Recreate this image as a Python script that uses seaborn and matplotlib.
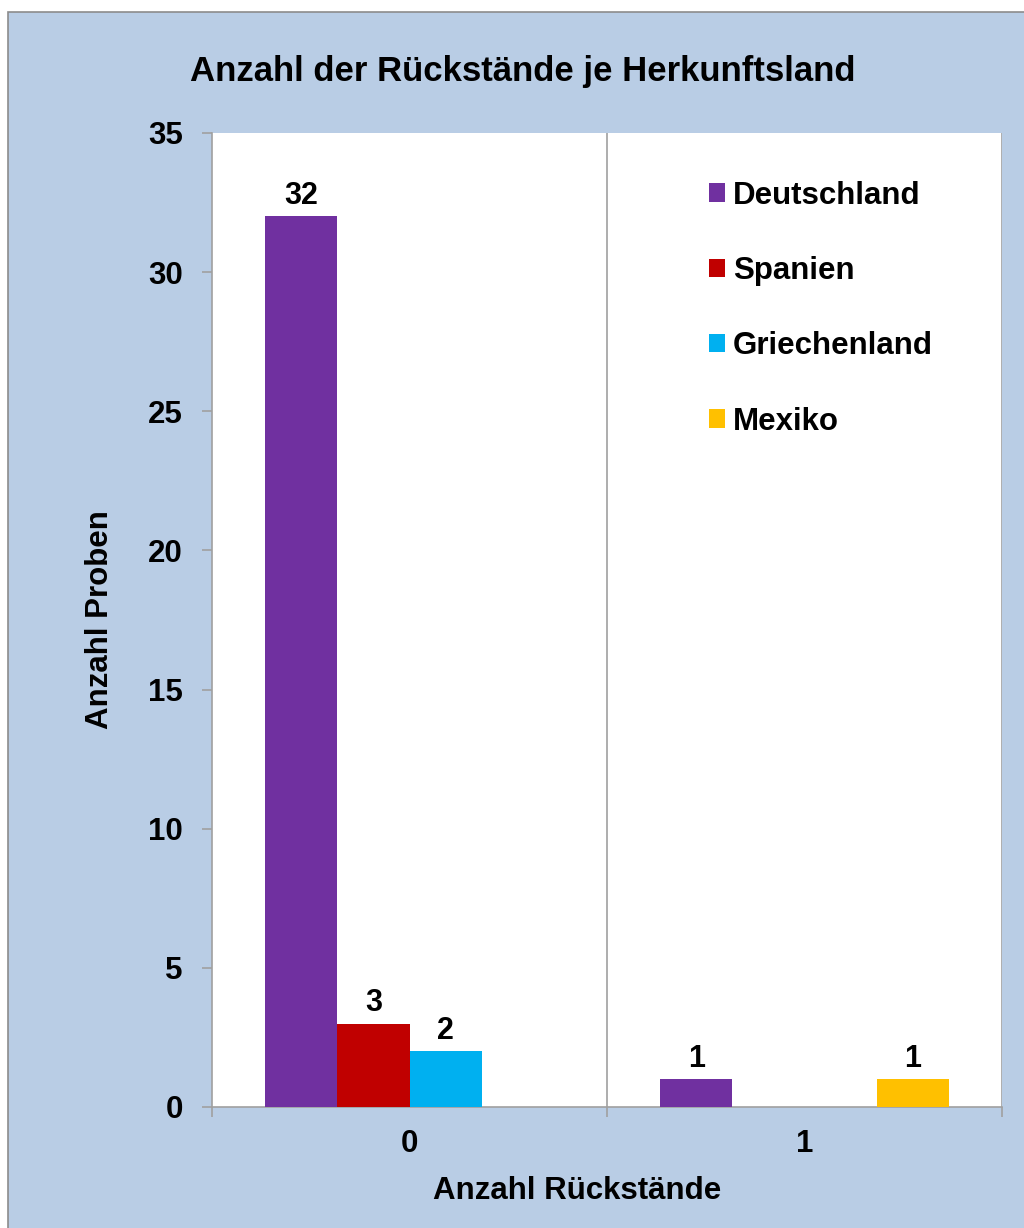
import matplotlib.pyplot as plt
import matplotlib.patches as mpatches
import numpy as np
import seaborn as sns
import pandas as pd

# Daten
kategorien = ['0', '1']
laender = ['Deutschland', 'Spanien', 'Griechenland', 'Mexiko']
werte_0 = [32, 3, 2, 0]
werte_1 = [1, 0, 0, 1]
farben = ['#7030A0', '#C00000', '#00B0F0', '#FFC000']
y_ticks = [0, 5, 10, 15, 20, 25, 30, 35]

df = pd.DataFrame({
    'rueckstaende': [kategorien[0]] * 4 + [kategorien[1]] * 4,
    'land': laender * 2,
    'anzahl': werte_0 + werte_1,
})

sns.set_style('white')
plt.rcParams['font.family'] = ['Liberation Sans', 'DejaVu Sans']
plt.rcParams['text.color'] = 'black'
plt.rcParams['axes.labelcolor'] = 'black'
plt.rcParams['xtick.color'] = 'black'
plt.rcParams['ytick.color'] = 'black'

fig = plt.figure(figsize=(10.24, 12.28), dpi=100, facecolor='white')
# blauer Hintergrund mit grauem Rahmen
bg = mpatches.Rectangle((8 / 1024, -0.01), 1.1, (1228 - 12) / 1228 + 0.01,
                        transform=fig.transFigure, facecolor='#B9CDE5',
                        edgecolor='#8C8C8C', linewidth=1.2, zorder=-10)
fig.patches.append(bg)

ax = fig.add_axes([212 / 1024, 121 / 1228, 790 / 1024, 974 / 1228])
ax.set_facecolor('white')

sns.barplot(data=df, x='rueckstaende', y='anzahl', hue='land', order=kategorien,
            hue_order=laender, palette=farben, width=0.73, linewidth=0,
            saturation=1, ax=ax, zorder=3)

ax.set_xlim(-0.5, 1.5)
ax.set_ylim(0, 35)
ax.set_yticks(y_ticks)

# Trennlinien zwischen Kategorien
for xv in [0.5, 1.5]:
    ax.axvline(xv, color='#A0A0A0', linewidth=1.2, zorder=1)

for sp in ['top', 'right']:
    ax.spines[sp].set_visible(False)
for sp in ['left', 'bottom']:
    ax.spines[sp].set_color('#A0A0A0')
    ax.spines[sp].set_linewidth(1.2)

ax.set_xticks([-0.5, 0.5, 1.5], minor=True)
ax.tick_params(axis='x', which='major', length=0, pad=16)
ax.tick_params(axis='x', which='minor', length=7, width=1.2, color='#A0A0A0', direction='out', bottom=True)
ax.tick_params(axis='y', length=7, width=1.2, color='#A0A0A0', direction='out', left=True, pad=14)

for label in ax.get_xticklabels() + ax.get_yticklabels():
    label.set_fontsize(22.5)
    label.set_fontweight('bold')

for cont in ax.containers:
    labs = [str(int(b.get_height())) if b.get_height() > 0 else '' for b in cont]
    ax.bar_label(cont, labels=labs, padding=4, fontsize=22, fontweight='bold')

ax.set_xlabel('Anzahl Rückstände', fontsize=22.5, fontweight='bold')
ax.xaxis.set_label_coords((577 - 212) / 790, (1107 - 1176) / 974)
ax.set_ylabel('Anzahl Proben', fontsize=22.5, fontweight='bold', labelpad=24)

fig.text(523 / 1024, 1 - 72 / 1228, 'Anzahl der Rückstände je Herkunftsland',
         ha='center', va='center', fontsize=25, fontweight='bold')

legend = ax.legend(loc='upper left', bbox_to_anchor=(693 / 1024, 1 - 165 / 1228),
                   bbox_transform=fig.transFigure, frameon=False,
                   handlelength=0.52, handleheight=0.52, handletextpad=0.25,
                   labelspacing=1.45, borderpad=0, prop={'size': 22.5, 'weight': 'bold'})

plt.savefig('out.png', dpi=100, facecolor=fig.get_facecolor())
